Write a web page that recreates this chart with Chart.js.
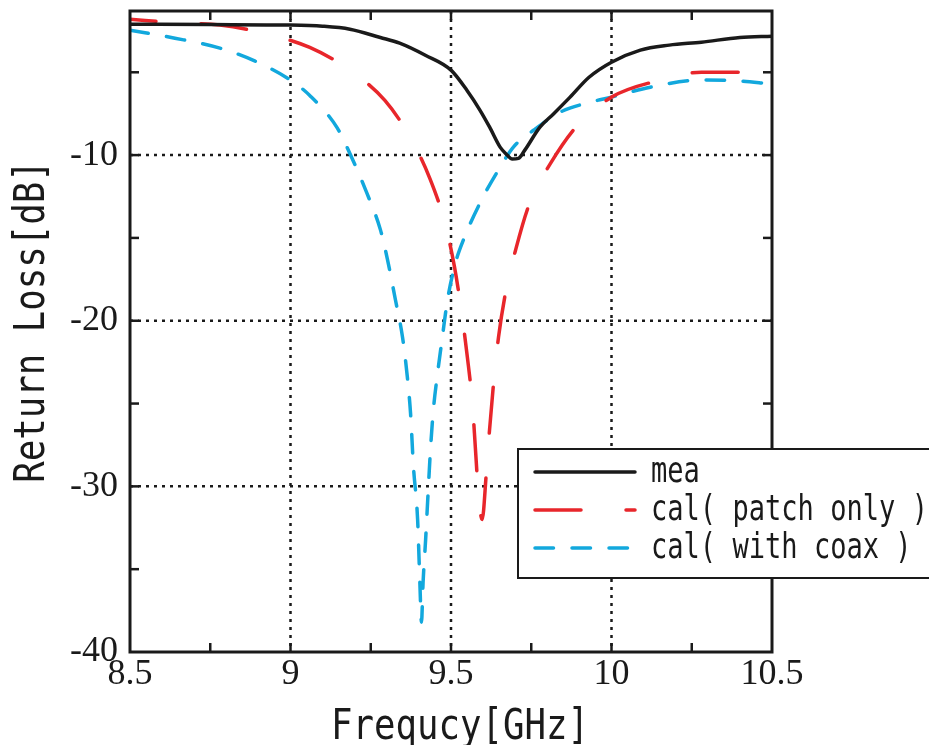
<!DOCTYPE html>
<html>
<head>
<meta charset="utf-8">
<script src="https://cdn.jsdelivr.net/npm/chart.js"></script>
<style>
  html, body { margin: 0; padding: 0; background: #fff; }
</style>
</head>
<body>
<canvas id="rlChart" width="929" height="745"></canvas>
<script>
// measured curve
const freqMea = [8.5, 8.75, 9.0, 9.1, 9.185, 9.28, 9.34, 9.42, 9.5, 9.55, 9.59, 9.62, 9.653, 9.675, 9.69,
  9.71, 9.73, 9.777, 9.82, 9.871, 9.93, 10.0, 10.09, 10.18, 10.28, 10.4, 10.5];
const mea = [-2.1, -2.12, -2.15, -2.22, -2.4, -2.9, -3.24, -3.97, -4.87, -6.1, -7.28, -8.3, -9.52, -10.0, -10.24,
  -10.2, -9.7, -8.31, -7.5, -6.5, -5.3, -4.39, -3.66, -3.36, -3.18, -2.9, -2.82];

// calculated, patch only
const freqPatch = [8.5, 8.64, 8.78, 8.93, 9.06, 9.185, 9.294, 9.372, 9.434, 9.481, 9.511, 9.533, 9.551, 9.567, 9.576,
  9.586, 9.597, 9.61, 9.62, 9.633, 9.648, 9.67, 9.703, 9.745, 9.81, 9.894, 10.0, 10.146, 10.28, 10.42, 10.5];
const patchOnly = [-1.8, -2.0, -2.15, -2.7, -3.5, -4.87, -6.7, -8.9, -11.4, -14.1, -16.76, -19.5, -22.2, -25.1, -27.7,
  -30.6, -32.0, -29.2, -26.6, -23.7, -21.0, -18.3, -15.6, -12.9, -10.5, -8.2, -6.5, -5.5, -5.0, -5.0, -5.1];

// calculated, with coax
const freqCoax = [8.5, 8.64, 8.78, 8.89, 9.0, 9.06, 9.146, 9.185, 9.238, 9.28, 9.302, 9.327, 9.349, 9.364, 9.374,
  9.383, 9.396, 9.403, 9.408, 9.413, 9.421, 9.427, 9.436, 9.445, 9.458, 9.473, 9.489, 9.514, 9.539, 9.598,
  9.654, 9.695, 9.757, 9.841, 9.935, 10.0, 10.121, 10.276, 10.38, 10.5];
const withCoax = [-2.46, -2.94, -3.54, -4.33, -5.47, -6.4, -8.37, -9.9, -12.3, -14.5, -16.3, -18.75, -21.0, -23.4, -25.6,
  -28.8, -32.0, -35.8, -38.2, -35.8, -33.2, -31.0, -27.8, -25.4, -23.2, -21.0, -18.75, -16.5, -15.1, -12.6,
  -10.7, -9.5, -8.5, -7.4, -6.8, -6.5, -5.9, -5.47, -5.5, -5.7];

const seriesNames = ['mea', 'cal( patch only )', 'cal( with coax )'];

// axes
const xTicks = [8.5, 9, 9.5, 10, 10.5];
const yTicks = [-40, -30, -20, -10];
const xGrid = [9, 9.5, 10];
const yGrid = [-30, -20, -10];
const xMinor = [8.75, 9.25, 9.75, 10.25];
const yMinor = [-35, -25, -15, -5];

const pts = (xs, ys) => xs.map((x, i) => ({ x: x, y: ys[i] }));

function seg(ctx, x1, y1, x2, y2) {
  ctx.beginPath();
  ctx.moveTo(x1, y1);
  ctx.lineTo(x2, y2);
  ctx.stroke();
}

// narrow gothic-looking text (canvas has no condensed mono, so squeeze it)
function squeezedText(ctx, text, x, y, rot, size, sx) {
  ctx.save();
  ctx.translate(x, y);
  ctx.rotate(rot);
  ctx.scale(sx, 1);
  ctx.fillStyle = '#1a1a1a';
  ctx.font = size + 'px "DejaVu Sans Mono"';
  ctx.textAlign = rot ? 'center' : 'left';
  ctx.textBaseline = 'alphabetic';
  ctx.fillText(text, 0, 0);
  ctx.restore();
}

// dotted grid under the curves, frame + inward ticks over them
const framePlugin = {
  id: 'frame',
  beforeDatasetsDraw(chart) {
    const { ctx, chartArea: a, scales: { x, y } } = chart;
    ctx.save();
    ctx.strokeStyle = '#1a1a1a';
    ctx.lineWidth = 2.5;
    ctx.setLineDash([3, 5]);
    xGrid.forEach(v => { const p = x.getPixelForValue(v); seg(ctx, p, a.top, p, a.bottom); });
    yGrid.forEach(v => { const p = y.getPixelForValue(v); seg(ctx, a.left, p, a.right, p); });
    ctx.restore();
  },
  afterDatasetsDraw(chart) {
    const { ctx, chartArea: a, scales: { x, y } } = chart;
    ctx.save();
    ctx.strokeStyle = '#1a1a1a';
    ctx.lineWidth = 2.5;
    const tl = 9;
    xMinor.concat(xGrid).forEach(v => {
      const p = x.getPixelForValue(v);
      seg(ctx, p, a.top, p, a.top + tl);
      seg(ctx, p, a.bottom, p, a.bottom - tl);
    });
    yMinor.concat(yGrid).forEach(v => {
      const p = y.getPixelForValue(v);
      seg(ctx, a.left, p, a.left + tl, p);
      seg(ctx, a.right, p, a.right - tl, p);
    });
    ctx.lineWidth = 3;
    ctx.strokeRect(a.left, a.top, a.right - a.left, a.bottom - a.top);
    ctx.restore();

    // axis titles, text taken from the scale options
    const xt = x.options.title.text, yt = y.options.title.text;
    const xw = xt.length * 21.5;
    squeezedText(ctx, xt, (a.left + a.right) / 2 + 9 - xw / 2, 739, 0, 42, 0.85);
    squeezedText(ctx, yt, 44, (a.top + a.bottom) / 2 - 10, -Math.PI / 2, 42, 0.85);
  }
};

// boxed legend sitting inside the plot, cut by the right edge
const legendPlugin = {
  id: 'boxLegend',
  afterDraw(chart) {
    const { ctx } = chart;
    const bx = 518, by = 449, bw = 430, bh = 129;
    ctx.save();
    ctx.fillStyle = '#fff';
    ctx.fillRect(bx, by, bw, bh);
    ctx.strokeStyle = '#1a1a1a';
    ctx.lineWidth = 2;
    ctx.strokeRect(bx, by, bw, bh);
    chart.data.datasets.forEach((ds, i) => {
      const ry = 472 + i * 38;
      ctx.strokeStyle = ds.borderColor;
      ctx.lineWidth = ds.borderWidth;
      ctx.lineCap = 'round';
      ctx.setLineDash(ds.borderDash || []);
      seg(ctx, 535, ry, 635, ry);
      ctx.setLineDash([]);
      ctx.save();
      ctx.translate(651, ry);
      ctx.scale(0.82, 1.05);
      ctx.fillStyle = '#1a1a1a';
      ctx.font = '33px "DejaVu Sans Mono"';
      ctx.textBaseline = 'middle';
      ctx.fillText(ds.label, 0, 1);
      ctx.restore();
    });
    ctx.restore();
  }
};

const lineStyle = {
  pointRadius: 0,
  borderWidth: 3.5,
  fill: false,
  cubicInterpolationMode: 'monotone',
  borderCapStyle: 'round'
};

const rlChart = new Chart(document.getElementById('rlChart'), {
  type: 'line',
  data: {
    datasets: [
      { ...lineStyle, label: seriesNames[0], data: pts(freqMea, mea), borderColor: '#1a1a1a' },
      { ...lineStyle, label: seriesNames[1], data: pts(freqPatch, patchOnly), borderColor: '#e8262b',
        borderDash: [46, 45], borderDashOffset: 20 },
      { ...lineStyle, label: seriesNames[2], data: pts(freqCoax, withCoax), borderColor: '#12a8dd', borderDash: [18.5, 18.5] }
    ]
  },
  options: {
    responsive: false,
    animation: false,
    devicePixelRatio: 1,
    layout: { padding: { left: 0, right: 157, top: 11, bottom: 0 } },
    plugins: { legend: { display: false }, tooltip: { enabled: false } },
    scales: {
      x: {
        type: 'linear',
        min: 8.5,
        max: 10.5,
        afterBuildTicks: s => { s.ticks = xTicks.map(v => ({ value: v })); },
        afterFit: s => { s.height = 93; },
        grid: { display: false, drawTicks: false },
        border: { display: false },
        ticks: {
          color: '#1a1a1a',
          padding: 1,
          maxRotation: 0,
          callback: v => String(v),
          font: { family: '"Liberation Serif"', size: 36 }
        },
        title: { display: false, text: 'Frequcy[GHz]' }
      },
      y: {
        min: -40,
        max: -1.3,
        afterBuildTicks: s => { s.ticks = yTicks.map(v => ({ value: v })); },
        afterFit: s => { s.width = 130; s.paddingTop = 0; s.paddingBottom = 0; },
        grid: { display: false, drawTicks: false },
        border: { display: false },
        ticks: {
          color: '#1a1a1a',
          padding: 12,
          callback: v => String(v),
          font: { family: '"Liberation Serif"', size: 36 }
        },
        title: { display: false, text: 'Return Loss[dB]' }
      }
    }
  },
  plugins: [framePlugin, legendPlugin]
});
</script>
</body>
</html>
